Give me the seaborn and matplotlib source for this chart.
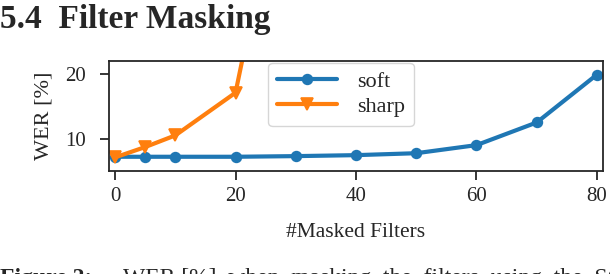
import numpy as np
import pandas as pd
import matplotlib
matplotlib.use('Agg')
import matplotlib.pyplot as plt
import seaborn as sns

sns.set_style('ticks')
plt.rcParams['font.family'] = ['Liberation Serif', 'DejaVu Serif']

# masked filters vs WER
masked_soft = [0, 5, 10, 20, 30, 40, 50, 60, 70, 80]
wer_soft = [7.2, 7.2, 7.2, 7.2, 7.3, 7.45, 7.75, 9.0, 12.5, 19.9]
masked_sharp = [0, 5, 10, 20, 30]
wer_sharp = [7.1, 8.7, 10.5, 17.1, 62.0]

blue = '#1f77b4'
orange = '#ff7f0e'

fig = plt.figure(figsize=(6.1, 2.74), dpi=100)
ax = fig.add_axes([0.1787, 0.3759, 0.8098, 0.4015])

sns.lineplot(x=masked_soft, y=wer_soft, marker='o', label='soft', color=blue,
             linewidth=3, markersize=7, markeredgewidth=1.2, markeredgecolor=blue, ax=ax)
sns.lineplot(x=masked_sharp, y=wer_sharp, marker='v', label='sharp', color=orange,
             linewidth=3, markersize=8, markeredgewidth=1.2, markeredgecolor=orange, ax=ax)

ax.set_xlim(-1, 81)
ax.set_ylim(5, 22)
ax.set_xticks([0, 20, 40, 60, 80])
ax.set_yticks([10, 20])
ax.tick_params(axis='both', which='major', labelsize=15, length=6.5, width=1.3)
ax.tick_params(axis='x', pad=5)
ax.tick_params(axis='y', pad=10)
for s in ax.spines.values():
    s.set_linewidth(1.3)
ax.set_xlabel('#Masked Filters', fontsize=15.5)
ax.set_ylabel('WER [%]', fontsize=16)
ax.xaxis.set_label_coords(0.5, -0.47)
ax.yaxis.set_label_coords(-0.112, 0.5)

ax.legend(loc='upper left', bbox_to_anchor=(0.322, 0.985), borderaxespad=0, fontsize=16,
          handlelength=2.7, handletextpad=0.9, labelspacing=0.2, frameon=True, borderpad=0.4)

fig.text(0.0, 0.985, '5.4  Filter Masking', fontsize=24, fontweight='bold', va='top', ha='left')
fig.text(0.0, -0.036, 'Figure 2:', fontsize=17, fontweight='bold', va='baseline', ha='left')
fig.text(0.2016, -0.036, 'WER [%]  when  masking  the  filters  using  the  SG  features',
         fontsize=17, va='baseline', ha='left')

fig.savefig('out.png', dpi=100)
